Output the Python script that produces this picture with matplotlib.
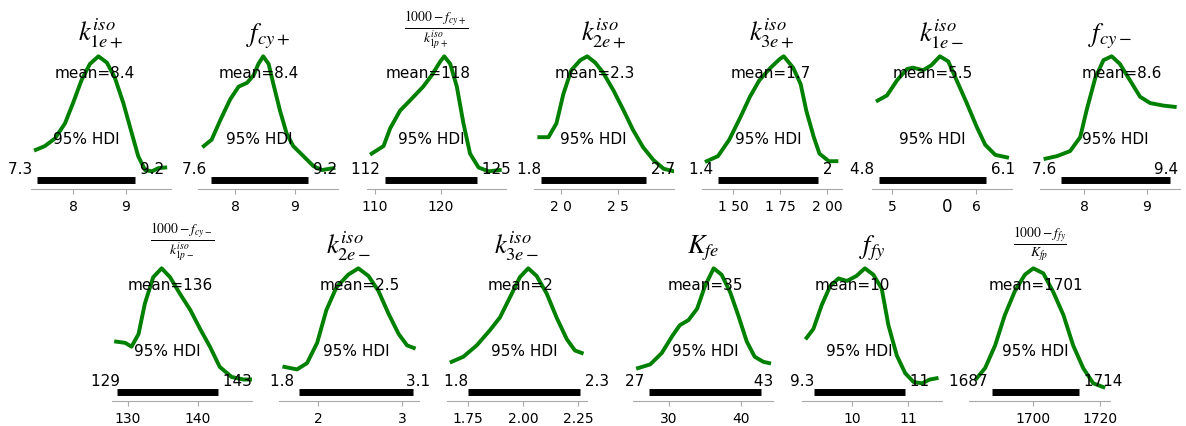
import matplotlib
matplotlib.use('Agg')
import matplotlib.pyplot as plt

plt.rcParams['mathtext.fontset'] = 'stix'

# ---- posterior KDE curves (x in parameter units, y = density / peak) ----
k1e_pos_x = [7.30, 7.47, 7.66, 7.85, 8.01, 8.16, 8.32, 8.48, 8.64, 8.79, 8.95, 9.11, 9.23, 9.36, 9.49, 9.61, 9.74]
k1e_pos_y = [0.26, 0.29, 0.35, 0.47, 0.64, 0.81, 0.94, 1.00, 0.95, 0.83, 0.63, 0.39, 0.21, 0.10, 0.09, 0.115, 0.12]

fcy_pos_x = [7.48, 7.61, 7.75, 7.92, 8.06, 8.20, 8.31, 8.39, 8.47, 8.56, 8.64, 8.75, 8.86, 8.97, 9.14, 9.31, 9.45, 9.64]
fcy_pos_y = [0.29, 0.34, 0.49, 0.66, 0.76, 0.79, 0.85, 0.94, 1.00, 0.94, 0.78, 0.57, 0.39, 0.29, 0.21, 0.13, 0.10, 0.115]

r1_pos_x = [109.5, 111.3, 112.3, 113.8, 115.3, 117.3, 118.6, 119.9, 120.5, 121.4, 122.4, 123.4, 124.4, 125.7, 127.2, 128.9]
r1_pos_y = [0.23, 0.29, 0.43, 0.57, 0.65, 0.76, 0.85, 0.96, 1.00, 0.94, 0.76, 0.47, 0.23, 0.12, 0.09, 0.10]

k2e_pos_x = [1.81, 1.89, 1.96, 2.02, 2.09, 2.17, 2.23, 2.30, 2.37, 2.46, 2.55, 2.63, 2.72, 2.81, 2.90, 2.99]
k2e_pos_y = [0.36, 0.36, 0.47, 0.70, 0.89, 0.97, 1.00, 0.95, 0.87, 0.73, 0.57, 0.42, 0.28, 0.18, 0.11, 0.09]

k3e_pos_x = [1.36, 1.42, 1.48, 1.54, 1.59, 1.64, 1.70, 1.75, 1.77, 1.82, 1.86, 1.89, 1.93, 1.96, 2.01, 2.05]
k3e_pos_y = [0.17, 0.21, 0.34, 0.52, 0.68, 0.81, 0.91, 0.98, 1.00, 0.91, 0.78, 0.57, 0.36, 0.23, 0.17, 0.17]

k1e_neg_x = [4.83, 4.94, 5.06, 5.18, 5.25, 5.37, 5.47, 5.57, 5.67, 5.77, 5.89, 6.01, 6.11, 6.23, 6.37]
k1e_neg_y = [0.65, 0.69, 0.81, 0.90, 0.91, 0.89, 0.93, 1.00, 0.96, 0.81, 0.63, 0.44, 0.30, 0.22, 0.20]

fcy_neg_x = [7.39, 7.57, 7.78, 7.94, 8.04, 8.18, 8.31, 8.44, 8.57, 8.73, 8.89, 9.05, 9.26, 9.44]
fcy_neg_y = [0.19, 0.21, 0.25, 0.36, 0.57, 0.83, 0.97, 1.00, 0.94, 0.81, 0.68, 0.63, 0.61, 0.60]

r1_neg_x = [128.3, 129.6, 130.5, 131.5, 132.4, 133.6, 134.8, 136.0, 137.4, 138.9, 140.3, 141.7, 143.1, 144.8, 146.5, 147.7]
r1_neg_y = [0.42, 0.41, 0.38, 0.48, 0.72, 0.93, 1.00, 0.93, 0.80, 0.67, 0.52, 0.38, 0.22, 0.14, 0.12, 0.12]

k2e_neg_x = [1.60, 1.75, 1.87, 1.99, 2.10, 2.22, 2.36, 2.48, 2.60, 2.72, 2.84, 2.96, 3.06, 3.14]
k2e_neg_y = [0.22, 0.20, 0.25, 0.41, 0.67, 0.85, 0.95, 1.00, 0.94, 0.82, 0.64, 0.48, 0.39, 0.37]

k3e_neg_x = [1.676, 1.729, 1.790, 1.850, 1.895, 1.941, 1.986, 2.024, 2.062, 2.108, 2.153, 2.199, 2.236, 2.267]
k3e_neg_y = [0.26, 0.30, 0.39, 0.51, 0.61, 0.77, 0.93, 1.00, 0.94, 0.80, 0.61, 0.44, 0.35, 0.33]

kfe_x = [25.7, 27.4, 29.0, 30.4, 31.5, 32.7, 33.9, 35.0, 36.2, 37.3, 38.5, 39.6, 40.8, 41.9, 43.1, 43.9]
kfe_y = [0.21, 0.24, 0.33, 0.46, 0.55, 0.59, 0.68, 0.86, 1.00, 0.95, 0.81, 0.63, 0.42, 0.30, 0.26, 0.25]

ffy_x = [9.19, 9.31, 9.46, 9.61, 9.76, 9.91, 10.08, 10.23, 10.38, 10.53, 10.65, 10.80, 10.95, 11.10, 11.25, 11.39, 11.51]
ffy_y = [0.45, 0.52, 0.71, 0.86, 0.92, 0.90, 0.94, 1.00, 0.95, 0.84, 0.55, 0.31, 0.17, 0.10, 0.09, 0.12, 0.13]

rfp_x = [1683.2, 1685.7, 1688.7, 1691.6, 1694.6, 1697.6, 1700.1, 1703.1, 1706.1, 1709.1, 1712.0, 1715.0, 1718.0, 1721.0]
rfp_y = [0.13, 0.21, 0.39, 0.63, 0.82, 0.95, 1.00, 0.96, 0.81, 0.63, 0.39, 0.21, 0.09, 0.06]

curves = [(k1e_pos_x, k1e_pos_y), (fcy_pos_x, fcy_pos_y), (r1_pos_x, r1_pos_y),
          (k2e_pos_x, k2e_pos_y), (k3e_pos_x, k3e_pos_y), (k1e_neg_x, k1e_neg_y),
          (fcy_neg_x, fcy_neg_y), (r1_neg_x, r1_neg_y), (k2e_neg_x, k2e_neg_y),
          (k3e_neg_x, k3e_neg_y), (kfe_x, kfe_y), (ffy_x, ffy_y), (rfp_x, rfp_y)]

titles = [r'$k_{1e+}^{iso}$', r'$f_{cy+}$', r'$\frac{1000-f_{cy+}}{k_{1p+}^{iso}}$',
          r'$k_{2e+}^{iso}$', r'$k_{3e+}^{iso}$', r'$k_{1e-}^{iso}$', r'$f_{cy-}$',
          r'$\frac{1000-f_{cy-}}{k_{1p-}^{iso}}$', r'$k_{2e-}^{iso}$', r'$k_{3e-}^{iso}$',
          r'$K_{fe}$', r'$f_{fy}$', r'$\frac{1000-f_{fy}}{K_{fp}}$']

means = [8.41, 8.40, 118.0, 2.30, 1.70, 5.48, 8.60, 136.0, 2.50, 1.99, 35.0, 10.0, 1701.0]
mean_labels = ['8.4', '8.4', '118', '2.3', '1.7', '5.5', '8.6', '136', '2.5', '2', '35', '10', '1701']

hdi_low = [7.32, 7.60, 111.5, 1.825, 1.42, 4.845, 7.635, 128.4, 1.774, 1.75, 27.2, 9.32, 1687.8]
hdi_high = [9.17, 9.22, 125.5, 2.746, 1.952, 6.12, 9.365, 142.9, 3.131, 2.259, 42.8, 10.95, 1713.7]
hdi_low_labels = ['7.3', '7.6', '112', '1.8', '1.4', '4.8', '7.6', '129', '1.8', '1.8', '27', '9.3', '1687']
hdi_high_labels = ['9.2', '9.2', '125', '2.7', '2', '6.1', '9.4', '143', '3.1', '2.3', '43', '11', '1714']

tick_values = [[8, 9], [8, 9], [110, 120], [2.0, 2.5], [1.5, 1.75, 2.0], [5, 6], [8, 9],
               [130, 140], [2, 3], [1.75, 2.0, 2.25], [30, 40], [10, 11], [1700, 1720]]
tick_labels = [['8', '9'], ['8', '9'], ['110', '120'], ['2 0', '2 5'], ['1 50', '1 75', '2 00'],
               ['5', '6'], ['8', '9'], ['130', '140'], ['2', '3'], ['1.75', '2.00', '2.25'],
               ['30', '40'], ['10', '11'], ['1700', '1720']]

# ---- layout (pixels of a 1186x427 canvas) ----
W, H = 1186, 427
left_px = [31, 198, 367, 534, 702, 872, 1040, 112, 279, 447, 633, 802, 969]
right_px = [171, 338, 506, 674, 842, 1012, 1180, 252, 419, 587, 773, 942, 1110]
xlims = [(7.208, 9.849), (7.383, 9.717), (108.79, 129.85), (1.763, 2.991), (1.335, 2.080),
         (4.762, 6.429), (7.302, 9.524), (127.71, 147.71), (1.536, 3.202), (1.655, 2.291),
         (25.0, 44.44), (9.107, 11.607), (1680.9, 1723.0)]
# hdi end labels nudged sideways (pixels) where neighbours would collide
low_shift = [0, 0, 0, 5, 0, 0, 0, 8, 0, 5, 0, 5, 0]
high_shift = [0, 0, 0, 0, 0, 0, -21, 0, -12, 0, -12, 0, 0]

fig = plt.figure(figsize=(W / 100, H / 100), dpi=100)
top_h = 1.05

for i, (xs, ys) in enumerate(curves):
    row = 0 if i < 7 else 1
    bottom_px = 190 if row == 0 else 402
    ax = fig.add_axes([left_px[i] / W, 1 - bottom_px / H,
                       (right_px[i] - left_px[i]) / W, 139 / H])
    ax.plot(xs, ys, color='green', lw=2.8)
    ax.set_xlim(*xlims[i])
    ax.set_ylim(-0.05, top_h)

    lo, hi = hdi_low[i], hdi_high[i]
    ax.plot([lo, hi], [top_h * 0.02, top_h * 0.02], color='k', lw=5,
            solid_capstyle='butt')
    ax.annotate(hdi_low_labels[i] + ' ', (lo, top_h * 0.07), xytext=(low_shift[i], 0),
                textcoords='offset pixels', size=11, ha='right', annotation_clip=False)
    ax.annotate(' ' + hdi_high_labels[i], (hi, top_h * 0.07), xytext=(high_shift[i], 0),
                textcoords='offset pixels', size=11, ha='left', annotation_clip=False)
    ax.text((lo + hi) / 2, top_h * 0.3, '95% HDI', size=11, ha='center')
    ax.text(means[i], top_h * 0.8, 'mean=' + mean_labels[i], size=11, ha='center')

    title_size = 14 if 'frac' in titles[i] else 19
    ax.set_title(titles[i], fontsize=title_size)
    ax.set_yticks([])
    ax.set_xticks(tick_values[i])
    ax.set_xticklabels(tick_labels[i], fontsize=10)
    ax.tick_params(axis='x', color='#a8a8a8')
    for side in ['left', 'right', 'top']:
        ax.spines[side].set_visible(False)
    ax.spines['bottom'].set_color('#a8a8a8')
    ax.patch.set_alpha(0)

# stray label left over under the k1e- panel
fig.text(947 / W, 1 - 207 / H, '0', fontsize=12, ha='center', va='center')

fig.savefig('out.png', dpi=100)
